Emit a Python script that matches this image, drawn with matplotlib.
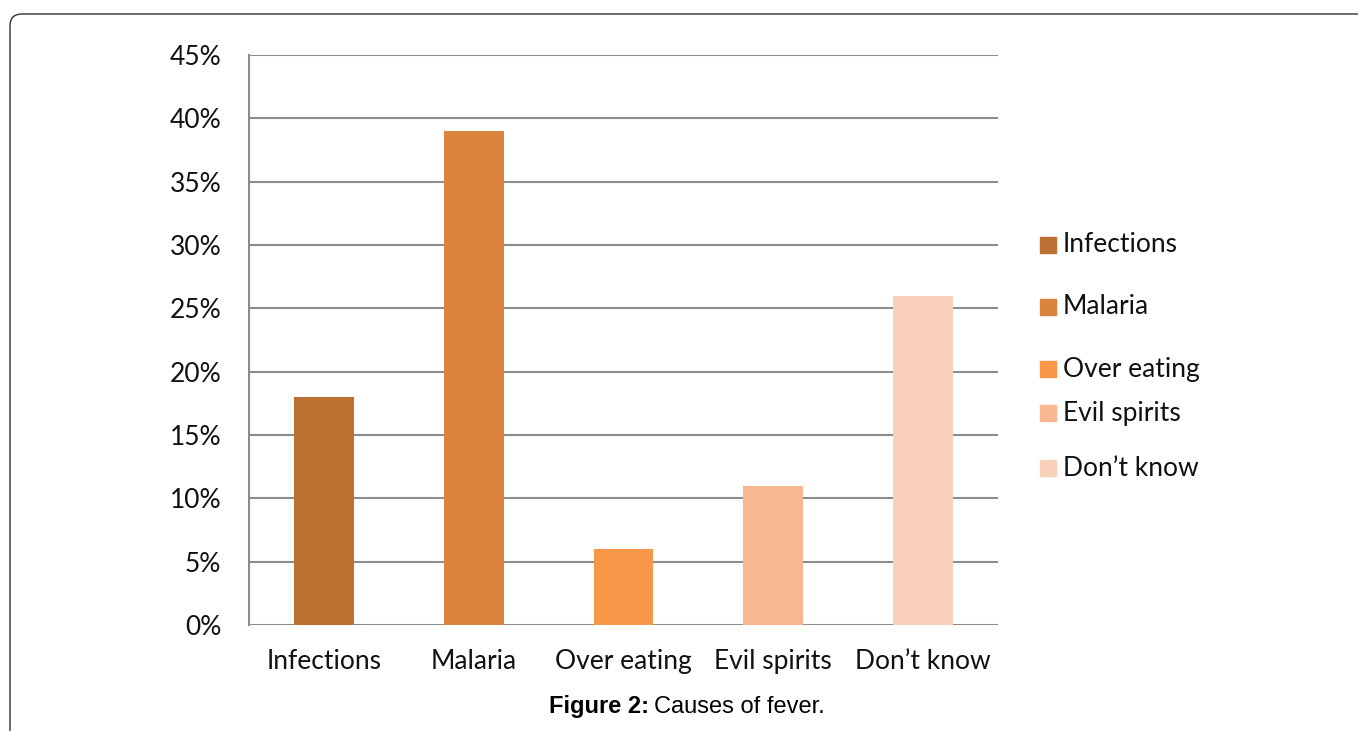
import matplotlib
matplotlib.use("Agg")
import matplotlib.pyplot as plt
from matplotlib.patches import FancyBboxPatch, Rectangle

# data
causes = ["Infections", "Malaria", "Over eating", "Evil spirits", "Don\u2019t know"]
percent = [18, 39, 6, 11, 26]
colors = ["#BA7132", "#DB843D", "#F79747", "#F8B790", "#F9D0BA"]
yticks = [0, 5, 10, 15, 20, 25, 30, 35, 40, 45]

plt.rcParams["font.family"] = ["Lato", "DejaVu Sans"]

fig = plt.figure(figsize=(13.58, 7.31), dpi=100)
ax = fig.add_axes([249 / 1358, 1 - 625 / 731, (998 - 249) / 1358, (625 - 55) / 731])

x = range(len(causes))
ax.bar(x, percent, width=0.4, color=colors, zorder=3)

ax.set_xlim(-0.5, len(causes) - 0.5)
ax.set_ylim(0, 45)
ax.set_yticks(yticks)
ax.set_yticklabels([f"{v}%" for v in yticks])
ax.set_xticks(list(x))
ax.set_xticklabels(causes)
ax.tick_params(length=0, labelsize=19, colors="#111111")
ax.tick_params(axis="y", pad=20)
ax.tick_params(axis="x", pad=17)
ax.yaxis.grid(True, color="#8c8c8c", lw=1.5, zorder=0)
ax.set_axisbelow(True)
for s in ["top", "right", "bottom"]:
    ax.spines[s].set_visible(False)
ax.spines["left"].set_color("#8c8c8c")
ax.spines["left"].set_linewidth(1.5)

# legend with the uneven spacing of the original
leg_y = [245, 307, 369, 413, 468]
for name, c, yy in zip(causes, colors, leg_y):
    fig.add_artist(Rectangle((1040 / 1358, 1 - (yy + 8) / 731), 16 / 1358, 16 / 731,
                             transform=fig.transFigure, color=c))
    fig.text(1063 / 1358, 1 - yy / 731, name, fontsize=19, va="center", ha="left",
             color="#111111")

# caption
t1 = fig.text(549 / 1358, 1 - 707 / 731, "Figure 2:", fontsize=17, fontweight="bold",
              family="Liberation Sans", va="center", ha="left")
fig.canvas.draw()
bb = t1.get_window_extent()
fig.text((bb.x1 + 5) / 1358, 1 - 707 / 731, "Causes of fever.", fontsize=17,
         family="Liberation Sans", va="center", ha="left")

# rounded frame on top-left
frame = FancyBboxPatch((10, -60), 1500, 731 - 14 + 60, boxstyle="round,pad=0,rounding_size=12",
                       transform=None, fill=False, edgecolor="#333333", lw=1.0)
fig.add_artist(frame)

fig.savefig("out.png", dpi=100)
